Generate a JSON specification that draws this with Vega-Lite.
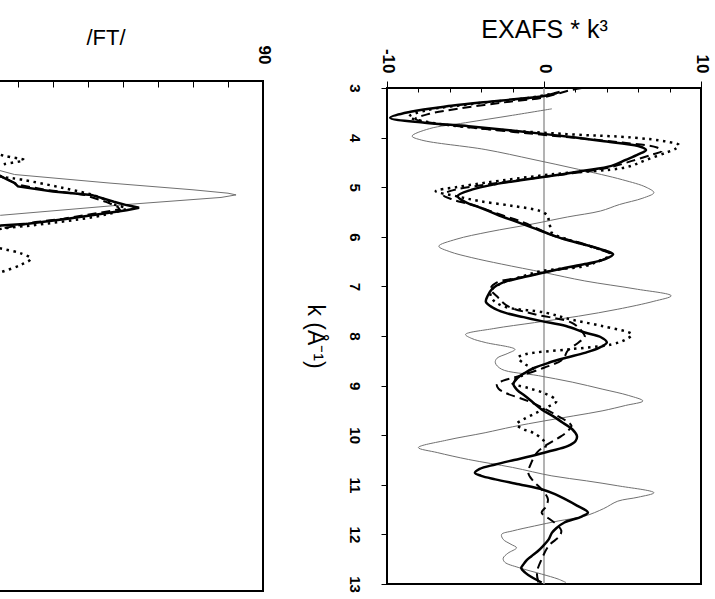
{
  "$schema": "https://vega.github.io/schema/vega-lite/v6.json",
  "padding": {"left": -54, "top": 16, "right": 0, "bottom": 0},
  "bounds": "flush",
  "center": true,
  "spacing": 124,
  "config": {
    "font": "Liberation Sans",
    "view": {"stroke": "#000", "strokeWidth": 2},
    "axis": {"grid": false, "domain": false, "labelColor": "#000", "tickColor": "#000", "titleColor": "#000", "titleFontWeight": "normal", "labelOverlap": false, "labelFlush": false}
  },
  "datasets": {
    "ft": [
      {"s": "thin", "r": 0.7, "ft": 2}, {"s": "thin", "r": 0.85, "ft": 5}, {"s": "thin", "r": 1.0, "ft": 10}, {"s": "thin", "r": 1.1, "ft": 19}, {"s": "thin", "r": 1.2, "ft": 46}, {"s": "thin", "r": 1.28, "ft": 70}, {"s": "thin", "r": 1.32, "ft": 80}, {"s": "thin", "r": 1.34, "ft": 82.3}, {"s": "thin", "r": 1.37, "ft": 78}, {"s": "thin", "r": 1.45, "ft": 52}, {"s": "thin", "r": 1.58, "ft": 15}, {"s": "thin", "r": 1.7, "ft": 6}, {"s": "thin", "r": 1.9, "ft": 3},
      {"s": "solid", "r": 0.8, "ft": 4}, {"s": "solid", "r": 0.95, "ft": 8}, {"s": "solid", "r": 1.08, "ft": 13}, {"s": "solid", "r": 1.16, "ft": 17}, {"s": "solid", "r": 1.2, "ft": 19}, {"s": "solid", "r": 1.24, "ft": 20}, {"s": "solid", "r": 1.3, "ft": 30}, {"s": "solid", "r": 1.34, "ft": 41}, {"s": "solid", "r": 1.42, "ft": 47.4}, {"s": "solid", "r": 1.46, "ft": 51}, {"s": "solid", "r": 1.49, "ft": 54.6}, {"s": "solid", "r": 1.52, "ft": 51}, {"s": "solid", "r": 1.54, "ft": 47.5}, {"s": "solid", "r": 1.62, "ft": 34.2}, {"s": "solid", "r": 1.68, "ft": 22.8}, {"s": "solid", "r": 1.7, "ft": 15.1}, {"s": "solid", "r": 1.78, "ft": 8}, {"s": "solid", "r": 1.9, "ft": 4},
      {"s": "dashed", "r": 0.8, "ft": 4}, {"s": "dashed", "r": 0.95, "ft": 8}, {"s": "dashed", "r": 1.08, "ft": 13}, {"s": "dashed", "r": 1.16, "ft": 17}, {"s": "dashed", "r": 1.22, "ft": 20}, {"s": "dashed", "r": 1.28, "ft": 28}, {"s": "dashed", "r": 1.34, "ft": 39}, {"s": "dashed", "r": 1.42, "ft": 45}, {"s": "dashed", "r": 1.48, "ft": 48.5}, {"s": "dashed", "r": 1.51, "ft": 49}, {"s": "dashed", "r": 1.56, "ft": 42}, {"s": "dashed", "r": 1.62, "ft": 33}, {"s": "dashed", "r": 1.66, "ft": 25}, {"s": "dashed", "r": 1.74, "ft": 15}, {"s": "dashed", "r": 1.82, "ft": 8}, {"s": "dashed", "r": 1.95, "ft": 4},
      {"s": "dotted", "r": 0.7, "ft": 6}, {"s": "dotted", "r": 0.82, "ft": 12}, {"s": "dotted", "r": 0.88, "ft": 16}, {"s": "dotted", "r": 0.93, "ft": 21.7}, {"s": "dotted", "r": 0.98, "ft": 16}, {"s": "dotted", "r": 1.05, "ft": 11}, {"s": "dotted", "r": 1.12, "ft": 15}, {"s": "dotted", "r": 1.16, "ft": 21}, {"s": "dotted", "r": 1.26, "ft": 33}, {"s": "dotted", "r": 1.36, "ft": 42.9}, {"s": "dotted", "r": 1.45, "ft": 47.4}, {"s": "dotted", "r": 1.5, "ft": 51}, {"s": "dotted", "r": 1.53, "ft": 49}, {"s": "dotted", "r": 1.6, "ft": 41.7}, {"s": "dotted", "r": 1.7, "ft": 23.7}, {"s": "dotted", "r": 1.74, "ft": 15.1}, {"s": "dotted", "r": 1.82, "ft": 9}, {"s": "dotted", "r": 1.9, "ft": 8}, {"s": "dotted", "r": 1.97, "ft": 15.1}, {"s": "dotted", "r": 2.03, "ft": 21}, {"s": "dotted", "r": 2.09, "ft": 23.7}, {"s": "dotted", "r": 2.16, "ft": 21}, {"s": "dotted", "r": 2.25, "ft": 15.1}, {"s": "dotted", "r": 2.35, "ft": 8}, {"s": "dotted", "r": 2.5, "ft": 4}
    ],
    "exafs": [
      {"s": "solid", "k": 3.08, "v": 1.0}, {"s": "solid", "k": 3.16, "v": 0.0}, {"s": "solid", "k": 3.26, "v": -3.0}, {"s": "solid", "k": 3.36, "v": -5.9}, {"s": "solid", "k": 3.48, "v": -8.5}, {"s": "solid", "k": 3.6, "v": -9.8}, {"s": "solid", "k": 3.7, "v": -7.6}, {"s": "solid", "k": 3.77, "v": -4.8}, {"s": "solid", "k": 3.85, "v": -2.2}, {"s": "solid", "k": 3.93, "v": 0.1}, {"s": "solid", "k": 4.0, "v": 2.0}, {"s": "solid", "k": 4.07, "v": 3.7}, {"s": "solid", "k": 4.17, "v": 6.0}, {"s": "solid", "k": 4.25, "v": 6.5}, {"s": "solid", "k": 4.34, "v": 6.0}, {"s": "solid", "k": 4.45, "v": 5.2}, {"s": "solid", "k": 4.57, "v": 4.3}, {"s": "solid", "k": 4.67, "v": 2.5}, {"s": "solid", "k": 4.77, "v": 0.5}, {"s": "solid", "k": 4.86, "v": -1.5}, {"s": "solid", "k": 4.94, "v": -3.1}, {"s": "solid", "k": 5.05, "v": -4.6}, {"s": "solid", "k": 5.18, "v": -5.5}, {"s": "solid", "k": 5.3, "v": -5.0}, {"s": "solid", "k": 5.42, "v": -4.0}, {"s": "solid", "k": 5.55, "v": -3.0}, {"s": "solid", "k": 5.68, "v": -1.9}, {"s": "solid", "k": 5.82, "v": -0.7}, {"s": "solid", "k": 5.95, "v": 0.4}, {"s": "solid", "k": 6.05, "v": 1.3}, {"s": "solid", "k": 6.15, "v": 2.5}, {"s": "solid", "k": 6.25, "v": 3.6}, {"s": "solid", "k": 6.35, "v": 4.4}, {"s": "solid", "k": 6.45, "v": 3.9}, {"s": "solid", "k": 6.55, "v": 2.6}, {"s": "solid", "k": 6.63, "v": 1.3}, {"s": "solid", "k": 6.72, "v": 0.0}, {"s": "solid", "k": 6.82, "v": -1.4}, {"s": "solid", "k": 6.92, "v": -2.6}, {"s": "solid", "k": 7.05, "v": -3.3}, {"s": "solid", "k": 7.2, "v": -3.6}, {"s": "solid", "k": 7.31, "v": -3.7}, {"s": "solid", "k": 7.42, "v": -3.3}, {"s": "solid", "k": 7.53, "v": -2.5}, {"s": "solid", "k": 7.62, "v": -1.3}, {"s": "solid", "k": 7.7, "v": -0.15}, {"s": "solid", "k": 7.8, "v": 1.4}, {"s": "solid", "k": 7.93, "v": 2.6}, {"s": "solid", "k": 8.02, "v": 3.6}, {"s": "solid", "k": 8.13, "v": 4.0}, {"s": "solid", "k": 8.24, "v": 3.5}, {"s": "solid", "k": 8.34, "v": 2.6}, {"s": "solid", "k": 8.44, "v": 1.4}, {"s": "solid", "k": 8.54, "v": 0.3}, {"s": "solid", "k": 8.64, "v": -0.6}, {"s": "solid", "k": 8.74, "v": -1.2}, {"s": "solid", "k": 8.85, "v": -1.7}, {"s": "solid", "k": 8.97, "v": -1.95}, {"s": "solid", "k": 9.09, "v": -1.7}, {"s": "solid", "k": 9.21, "v": -1.2}, {"s": "solid", "k": 9.34, "v": -0.7}, {"s": "solid", "k": 9.48, "v": -0.15}, {"s": "solid", "k": 9.62, "v": 0.6}, {"s": "solid", "k": 9.75, "v": 1.2}, {"s": "solid", "k": 9.88, "v": 1.8}, {"s": "solid", "k": 10.02, "v": 2.1}, {"s": "solid", "k": 10.12, "v": 2.0}, {"s": "solid", "k": 10.22, "v": 1.5}, {"s": "solid", "k": 10.32, "v": 0.4}, {"s": "solid", "k": 10.42, "v": -0.8}, {"s": "solid", "k": 10.5, "v": -1.9}, {"s": "solid", "k": 10.59, "v": -3.1}, {"s": "solid", "k": 10.68, "v": -4.1}, {"s": "solid", "k": 10.76, "v": -4.4}, {"s": "solid", "k": 10.82, "v": -4.0}, {"s": "solid", "k": 10.89, "v": -3.1}, {"s": "solid", "k": 10.99, "v": -1.6}, {"s": "solid", "k": 11.09, "v": -0.15}, {"s": "solid", "k": 11.19, "v": 0.7}, {"s": "solid", "k": 11.29, "v": 1.35}, {"s": "solid", "k": 11.42, "v": 2.1}, {"s": "solid", "k": 11.56, "v": 2.8}, {"s": "solid", "k": 11.64, "v": 2.4}, {"s": "solid", "k": 11.76, "v": 1.3}, {"s": "solid", "k": 11.87, "v": 0.8}, {"s": "solid", "k": 11.97, "v": 0.5}, {"s": "solid", "k": 12.1, "v": 0.3}, {"s": "solid", "k": 12.23, "v": -0.05}, {"s": "solid", "k": 12.34, "v": -0.4}, {"s": "solid", "k": 12.44, "v": -0.8}, {"s": "solid", "k": 12.52, "v": -1.1}, {"s": "solid", "k": 12.6, "v": -1.3}, {"s": "solid", "k": 12.68, "v": -1.45}, {"s": "solid", "k": 12.77, "v": -1.2}, {"s": "solid", "k": 12.86, "v": -0.8}, {"s": "solid", "k": 12.97, "v": -0.15},
      {"s": "dashed", "k": 3.0, "v": 2.4}, {"s": "dashed", "k": 3.05, "v": 1.6}, {"s": "dashed", "k": 3.12, "v": 0.8}, {"s": "dashed", "k": 3.2, "v": -0.2}, {"s": "dashed", "k": 3.3, "v": -2.8}, {"s": "dashed", "k": 3.42, "v": -5.5}, {"s": "dashed", "k": 3.52, "v": -7.3}, {"s": "dashed", "k": 3.62, "v": -8.2}, {"s": "dashed", "k": 3.72, "v": -6.8}, {"s": "dashed", "k": 3.8, "v": -4.5}, {"s": "dashed", "k": 3.9, "v": -1.5}, {"s": "dashed", "k": 4.0, "v": 1.8}, {"s": "dashed", "k": 4.1, "v": 5.0}, {"s": "dashed", "k": 4.2, "v": 7.2}, {"s": "dashed", "k": 4.27, "v": 7.5}, {"s": "dashed", "k": 4.35, "v": 6.8}, {"s": "dashed", "k": 4.47, "v": 5.6}, {"s": "dashed", "k": 4.6, "v": 4.2}, {"s": "dashed", "k": 4.72, "v": 1.8}, {"s": "dashed", "k": 4.84, "v": -1.2}, {"s": "dashed", "k": 4.96, "v": -4.0}, {"s": "dashed", "k": 5.08, "v": -6.0}, {"s": "dashed", "k": 5.16, "v": -6.4}, {"s": "dashed", "k": 5.25, "v": -5.8}, {"s": "dashed", "k": 5.38, "v": -4.3}, {"s": "dashed", "k": 5.55, "v": -2.8}, {"s": "dashed", "k": 5.7, "v": -1.4}, {"s": "dashed", "k": 5.85, "v": -0.3}, {"s": "dashed", "k": 5.98, "v": 0.6}, {"s": "dashed", "k": 6.12, "v": 2.3}, {"s": "dashed", "k": 6.25, "v": 3.5}, {"s": "dashed", "k": 6.35, "v": 4.2}, {"s": "dashed", "k": 6.47, "v": 3.7}, {"s": "dashed", "k": 6.58, "v": 2.4}, {"s": "dashed", "k": 6.7, "v": 0.3}, {"s": "dashed", "k": 6.82, "v": -1.5}, {"s": "dashed", "k": 6.92, "v": -3.0}, {"s": "dashed", "k": 7.05, "v": -3.4}, {"s": "dashed", "k": 7.2, "v": -3.0}, {"s": "dashed", "k": 7.4, "v": -2.3}, {"s": "dashed", "k": 7.56, "v": -0.6}, {"s": "dashed", "k": 7.73, "v": 1.75}, {"s": "dashed", "k": 7.9, "v": 2.4}, {"s": "dashed", "k": 8.02, "v": 2.6}, {"s": "dashed", "k": 8.13, "v": 2.2}, {"s": "dashed", "k": 8.3, "v": 1.5}, {"s": "dashed", "k": 8.47, "v": 1.2}, {"s": "dashed", "k": 8.64, "v": 0.0}, {"s": "dashed", "k": 8.8, "v": -1.5}, {"s": "dashed", "k": 8.9, "v": -2.6}, {"s": "dashed", "k": 8.97, "v": -3.0}, {"s": "dashed", "k": 9.06, "v": -2.9}, {"s": "dashed", "k": 9.14, "v": -2.5}, {"s": "dashed", "k": 9.34, "v": -0.8}, {"s": "dashed", "k": 9.58, "v": 0.7}, {"s": "dashed", "k": 9.81, "v": 1.75}, {"s": "dashed", "k": 9.92, "v": 1.5}, {"s": "dashed", "k": 10.02, "v": 1.1}, {"s": "dashed", "k": 10.22, "v": 0.06}, {"s": "dashed", "k": 10.35, "v": -0.45}, {"s": "dashed", "k": 10.55, "v": -0.8}, {"s": "dashed", "k": 10.76, "v": -1.0}, {"s": "dashed", "k": 10.92, "v": -0.7}, {"s": "dashed", "k": 11.09, "v": -0.15}, {"s": "dashed", "k": 11.29, "v": 0.25}, {"s": "dashed", "k": 11.45, "v": 0.1}, {"s": "dashed", "k": 11.56, "v": -0.15}, {"s": "dashed", "k": 11.7, "v": 0.4}, {"s": "dashed", "k": 11.8, "v": 0.8}, {"s": "dashed", "k": 11.92, "v": 1.1}, {"s": "dashed", "k": 12.03, "v": 1.0}, {"s": "dashed", "k": 12.23, "v": 0.3}, {"s": "dashed", "k": 12.5, "v": -0.15}, {"s": "dashed", "k": 12.77, "v": -0.45}, {"s": "dashed", "k": 12.97, "v": -0.35},
      {"s": "dotted", "k": 3.1, "v": 0.8}, {"s": "dotted", "k": 3.2, "v": -1.0}, {"s": "dotted", "k": 3.32, "v": -4.5}, {"s": "dotted", "k": 3.45, "v": -7.5}, {"s": "dotted", "k": 3.58, "v": -8.6}, {"s": "dotted", "k": 3.68, "v": -7.5}, {"s": "dotted", "k": 3.8, "v": -4.5}, {"s": "dotted", "k": 3.93, "v": 1.45}, {"s": "dotted", "k": 4.0, "v": 5.7}, {"s": "dotted", "k": 4.08, "v": 7.8}, {"s": "dotted", "k": 4.15, "v": 8.6}, {"s": "dotted", "k": 4.22, "v": 8.4}, {"s": "dotted", "k": 4.3, "v": 7.8}, {"s": "dotted", "k": 4.45, "v": 6.5}, {"s": "dotted", "k": 4.6, "v": 5.2}, {"s": "dotted", "k": 4.74, "v": 0.5}, {"s": "dotted", "k": 4.91, "v": -3.75}, {"s": "dotted", "k": 5.0, "v": -5.6}, {"s": "dotted", "k": 5.08, "v": -6.9}, {"s": "dotted", "k": 5.18, "v": -5.6}, {"s": "dotted", "k": 5.28, "v": -4.1}, {"s": "dotted", "k": 5.38, "v": -1.95}, {"s": "dotted", "k": 5.48, "v": -0.25}, {"s": "dotted", "k": 5.58, "v": 0.25}, {"s": "dotted", "k": 5.68, "v": 0.3}, {"s": "dotted", "k": 5.8, "v": 0.4}, {"s": "dotted", "k": 5.92, "v": 0.5}, {"s": "dotted", "k": 6.05, "v": 1.5}, {"s": "dotted", "k": 6.2, "v": 3.0}, {"s": "dotted", "k": 6.35, "v": 4.3}, {"s": "dotted", "k": 6.47, "v": 3.6}, {"s": "dotted", "k": 6.59, "v": 2.6}, {"s": "dotted", "k": 6.69, "v": -0.15}, {"s": "dotted", "k": 6.82, "v": -1.6}, {"s": "dotted", "k": 6.95, "v": -2.8}, {"s": "dotted", "k": 7.1, "v": -3.4}, {"s": "dotted", "k": 7.25, "v": -3.3}, {"s": "dotted", "k": 7.4, "v": -2.6}, {"s": "dotted", "k": 7.53, "v": 0.1}, {"s": "dotted", "k": 7.67, "v": 1.75}, {"s": "dotted", "k": 7.8, "v": 3.7}, {"s": "dotted", "k": 7.97, "v": 5.6}, {"s": "dotted", "k": 8.07, "v": 5.2}, {"s": "dotted", "k": 8.17, "v": 4.3}, {"s": "dotted", "k": 8.27, "v": 1.55}, {"s": "dotted", "k": 8.37, "v": -1.2}, {"s": "dotted", "k": 8.44, "v": -1.65}, {"s": "dotted", "k": 8.57, "v": -1.2}, {"s": "dotted", "k": 8.67, "v": -0.7}, {"s": "dotted", "k": 8.8, "v": -1.4}, {"s": "dotted", "k": 8.94, "v": -2.05}, {"s": "dotted", "k": 9.05, "v": -1.0}, {"s": "dotted", "k": 9.15, "v": 0.0}, {"s": "dotted", "k": 9.31, "v": 0.8}, {"s": "dotted", "k": 9.42, "v": 0.3}, {"s": "dotted", "k": 9.55, "v": -0.5}, {"s": "dotted", "k": 9.68, "v": -1.3}, {"s": "dotted", "k": 9.78, "v": -1.75}, {"s": "dotted", "k": 9.88, "v": -1.3}, {"s": "dotted", "k": 9.95, "v": -0.7}, {"s": "dotted", "k": 10.12, "v": 0.0}, {"s": "dotted", "k": 10.25, "v": 0.1},
      {"s": "thin", "k": 3.42, "v": 0.5}, {"s": "thin", "k": 3.55, "v": -2.0}, {"s": "thin", "k": 3.7, "v": -5.0}, {"s": "thin", "k": 3.82, "v": -7.3}, {"s": "thin", "k": 3.97, "v": -8.4}, {"s": "thin", "k": 4.05, "v": -7.8}, {"s": "thin", "k": 4.24, "v": -3.75}, {"s": "thin", "k": 4.44, "v": -0.7}, {"s": "thin", "k": 4.64, "v": 2.2}, {"s": "thin", "k": 4.85, "v": 5.0}, {"s": "thin", "k": 5.0, "v": 6.5}, {"s": "thin", "k": 5.11, "v": 7.0}, {"s": "thin", "k": 5.22, "v": 6.3}, {"s": "thin", "k": 5.35, "v": 4.8}, {"s": "thin", "k": 5.48, "v": 3.6}, {"s": "thin", "k": 5.6, "v": 1.5}, {"s": "thin", "k": 5.74, "v": -0.7}, {"s": "thin", "k": 5.9, "v": -3.5}, {"s": "thin", "k": 6.05, "v": -5.6}, {"s": "thin", "k": 6.19, "v": -6.7}, {"s": "thin", "k": 6.3, "v": -6.0}, {"s": "thin", "k": 6.42, "v": -4.6}, {"s": "thin", "k": 6.55, "v": -2.7}, {"s": "thin", "k": 6.72, "v": 0.0}, {"s": "thin", "k": 6.89, "v": 2.6}, {"s": "thin", "k": 7.05, "v": 5.8}, {"s": "thin", "k": 7.19, "v": 8.1}, {"s": "thin", "k": 7.3, "v": 7.0}, {"s": "thin", "k": 7.46, "v": 4.7}, {"s": "thin", "k": 7.6, "v": 2.2}, {"s": "thin", "k": 7.73, "v": -0.6}, {"s": "thin", "k": 7.85, "v": -3.2}, {"s": "thin", "k": 7.97, "v": -5.0}, {"s": "thin", "k": 8.05, "v": -4.6}, {"s": "thin", "k": 8.13, "v": -3.75}, {"s": "thin", "k": 8.27, "v": -1.85}, {"s": "thin", "k": 8.35, "v": -2.3}, {"s": "thin", "k": 8.45, "v": -3.0}, {"s": "thin", "k": 8.54, "v": -3.1}, {"s": "thin", "k": 8.67, "v": -2.7}, {"s": "thin", "k": 8.8, "v": -0.35}, {"s": "thin", "k": 8.93, "v": 1.8}, {"s": "thin", "k": 9.07, "v": 3.7}, {"s": "thin", "k": 9.2, "v": 5.4}, {"s": "thin", "k": 9.31, "v": 6.3}, {"s": "thin", "k": 9.4, "v": 5.2}, {"s": "thin", "k": 9.51, "v": 3.7}, {"s": "thin", "k": 9.61, "v": 1.9}, {"s": "thin", "k": 9.71, "v": 0.05}, {"s": "thin", "k": 9.83, "v": -2.0}, {"s": "thin", "k": 9.95, "v": -3.75}, {"s": "thin", "k": 10.1, "v": -6.2}, {"s": "thin", "k": 10.25, "v": -8.0}, {"s": "thin", "k": 10.35, "v": -6.8}, {"s": "thin", "k": 10.49, "v": -4.8}, {"s": "thin", "k": 10.65, "v": -2.0}, {"s": "thin", "k": 10.82, "v": 0.5}, {"s": "thin", "k": 10.92, "v": 2.7}, {"s": "thin", "k": 11.02, "v": 4.7}, {"s": "thin", "k": 11.16, "v": 7.0}, {"s": "thin", "k": 11.25, "v": 6.0}, {"s": "thin", "k": 11.33, "v": 4.7}, {"s": "thin", "k": 11.48, "v": 3.8}, {"s": "thin", "k": 11.63, "v": 2.6}, {"s": "thin", "k": 11.73, "v": 0.9}, {"s": "thin", "k": 11.83, "v": -0.6}, {"s": "thin", "k": 11.93, "v": -2.0}, {"s": "thin", "k": 12.0, "v": -2.7}, {"s": "thin", "k": 12.1, "v": -2.6}, {"s": "thin", "k": 12.2, "v": -2.1}, {"s": "thin", "k": 12.27, "v": -1.75}, {"s": "thin", "k": 12.38, "v": -2.3}, {"s": "thin", "k": 12.48, "v": -2.6}, {"s": "thin", "k": 12.56, "v": -2.5}, {"s": "thin", "k": 12.67, "v": -1.6}, {"s": "thin", "k": 12.8, "v": -0.15}, {"s": "thin", "k": 12.9, "v": 0.9}, {"s": "thin", "k": 12.97, "v": 1.4}
    ]
  },
  "hconcat": [
    {
      "width": 315,
      "height": 510,
      "data": {"name": "ft"},
      "resolve": {"axis": {"x": "independent"}},
      "layer": [
        {
          "transform": [{"filter": "datum.s === 'thin'"}],
          "mark": {"type": "line", "color": "#707070", "strokeWidth": 1, "clip": true},
          "encoding": {
            "x": {"field": "ft", "type": "quantitative", "scale": {"domain": [0, 90], "nice": false},
                  "axis": {"orient": "top", "values": [90], "labelExpr": "'' + datum.value",
                           "tickSize": 0, "labelAngle": 90, "labelAlign": "right", "labelBaseline": "middle", "labelPadding": 17,
                           "labelFontSize": 17, "labelFontWeight": "bold", "title": "/FT/", "titleFontSize": 22, "titlePadding": -4}},
            "y": {"field": "r", "type": "quantitative", "scale": {"domain": [0, 6], "reverse": true, "nice": false}, "axis": null},
            "order": {"field": "r", "type": "quantitative"}
          }
        },
        {
          "transform": [{"filter": "datum.s === 'dotted'"}],
          "mark": {"type": "line", "color": "#000", "strokeWidth": 2.5, "strokeDash": [2.5, 4.5], "clip": true, "interpolate": "catmull-rom"},
          "encoding": {
            "x": {"field": "ft", "type": "quantitative",
                  "axis": {"orient": "top", "values": [0, 10, 20, 30, 40, 50, 60, 70, 80], "labels": false, "tickSize": -6, "title": null}},
            "y": {"field": "r", "type": "quantitative", "axis": null},
            "order": {"field": "r", "type": "quantitative"}
          }
        },
        {
          "transform": [{"filter": "datum.s === 'dashed'"}],
          "mark": {"type": "line", "color": "#000", "strokeWidth": 2, "strokeDash": [9, 5], "clip": true},
          "encoding": {
            "x": {"field": "ft", "type": "quantitative", "axis": null},
            "y": {"field": "r", "type": "quantitative", "axis": null},
            "order": {"field": "r", "type": "quantitative"}
          }
        },
        {
          "transform": [{"filter": "datum.s === 'solid'"}],
          "mark": {"type": "line", "color": "#000", "strokeWidth": 2.5, "clip": true},
          "encoding": {
            "x": {"field": "ft", "type": "quantitative", "axis": null},
            "y": {"field": "r", "type": "quantitative", "axis": null},
            "order": {"field": "r", "type": "quantitative"}
          }
        }
      ]
    },
    {
      "width": 314,
      "height": 496,
      "resolve": {"axis": {"x": "independent"}},
      "layer": [
        {
          "data": {"values": [{}]},
          "mark": {"type": "rule", "color": "#9a9a9a", "strokeWidth": 1.5},
          "encoding": {
            "x": {"datum": 0, "type": "quantitative", "scale": {"domain": [-10, 10], "nice": false},
                  "axis": {"orient": "top", "values": [-10, 0, 10], "labelExpr": "'' + datum.value",
                           "tickSize": 7, "labelAngle": 90, "labelAlign": "right", "labelBaseline": "middle", "labelPadding": 8,
                           "labelFontSize": 17, "labelFontWeight": "bold", "title": "EXAFS * k³", "titleFontSize": 25, "titlePadding": 6}}
          }
        },
        {
          "data": {"name": "exafs"},
          "transform": [{"filter": "datum.s === 'thin'"}],
          "mark": {"type": "line", "color": "#707070", "strokeWidth": 1, "clip": true, "interpolate": "catmull-rom"},
          "encoding": {
            "x": {"field": "v", "type": "quantitative",
                  "axis": {"orient": "top", "values": [-8, -6, -4, -2, 2, 4, 6, 8], "labels": false, "tickSize": -4, "title": null}},
            "y": {"field": "k", "type": "quantitative", "scale": {"domain": [3, 13], "reverse": true, "nice": false},
                  "axis": {"orient": "left", "values": [3, 4, 5, 6, 7, 8, 9, 10, 11, 12, 13], "tickSize": 6,
                           "labelAngle": 90, "labelAlign": "center", "labelBaseline": "top", "labelPadding": 20,
                           "labelFontSize": 15, "labelFontWeight": "bold",
                           "title": "k (Å⁻¹)", "titleAngle": 90, "titleBaseline": "top", "titleFontSize": 23, "titlePadding": 21}},
            "order": {"field": "k", "type": "quantitative"}
          }
        },
        {
          "data": {"name": "exafs"},
          "transform": [{"filter": "datum.s === 'dotted'"}],
          "mark": {"type": "line", "color": "#000", "strokeWidth": 2.5, "strokeDash": [2.5, 4.5], "clip": true, "interpolate": "catmull-rom"},
          "encoding": {
            "x": {"field": "v", "type": "quantitative", "axis": null},
            "y": {"field": "k", "type": "quantitative"},
            "order": {"field": "k", "type": "quantitative"}
          }
        },
        {
          "data": {"name": "exafs"},
          "transform": [{"filter": "datum.s === 'dashed'"}],
          "mark": {"type": "line", "color": "#000", "strokeWidth": 2, "strokeDash": [9, 5], "clip": true, "interpolate": "catmull-rom"},
          "encoding": {
            "x": {"field": "v", "type": "quantitative", "axis": null},
            "y": {"field": "k", "type": "quantitative"},
            "order": {"field": "k", "type": "quantitative"}
          }
        },
        {
          "data": {"name": "exafs"},
          "transform": [{"filter": "datum.s === 'solid'"}],
          "mark": {"type": "line", "color": "#000", "strokeWidth": 2.5, "clip": true, "interpolate": "catmull-rom"},
          "encoding": {
            "x": {"field": "v", "type": "quantitative", "axis": null},
            "y": {"field": "k", "type": "quantitative"},
            "order": {"field": "k", "type": "quantitative"}
          }
        }
      ]
    }
  ]
}
